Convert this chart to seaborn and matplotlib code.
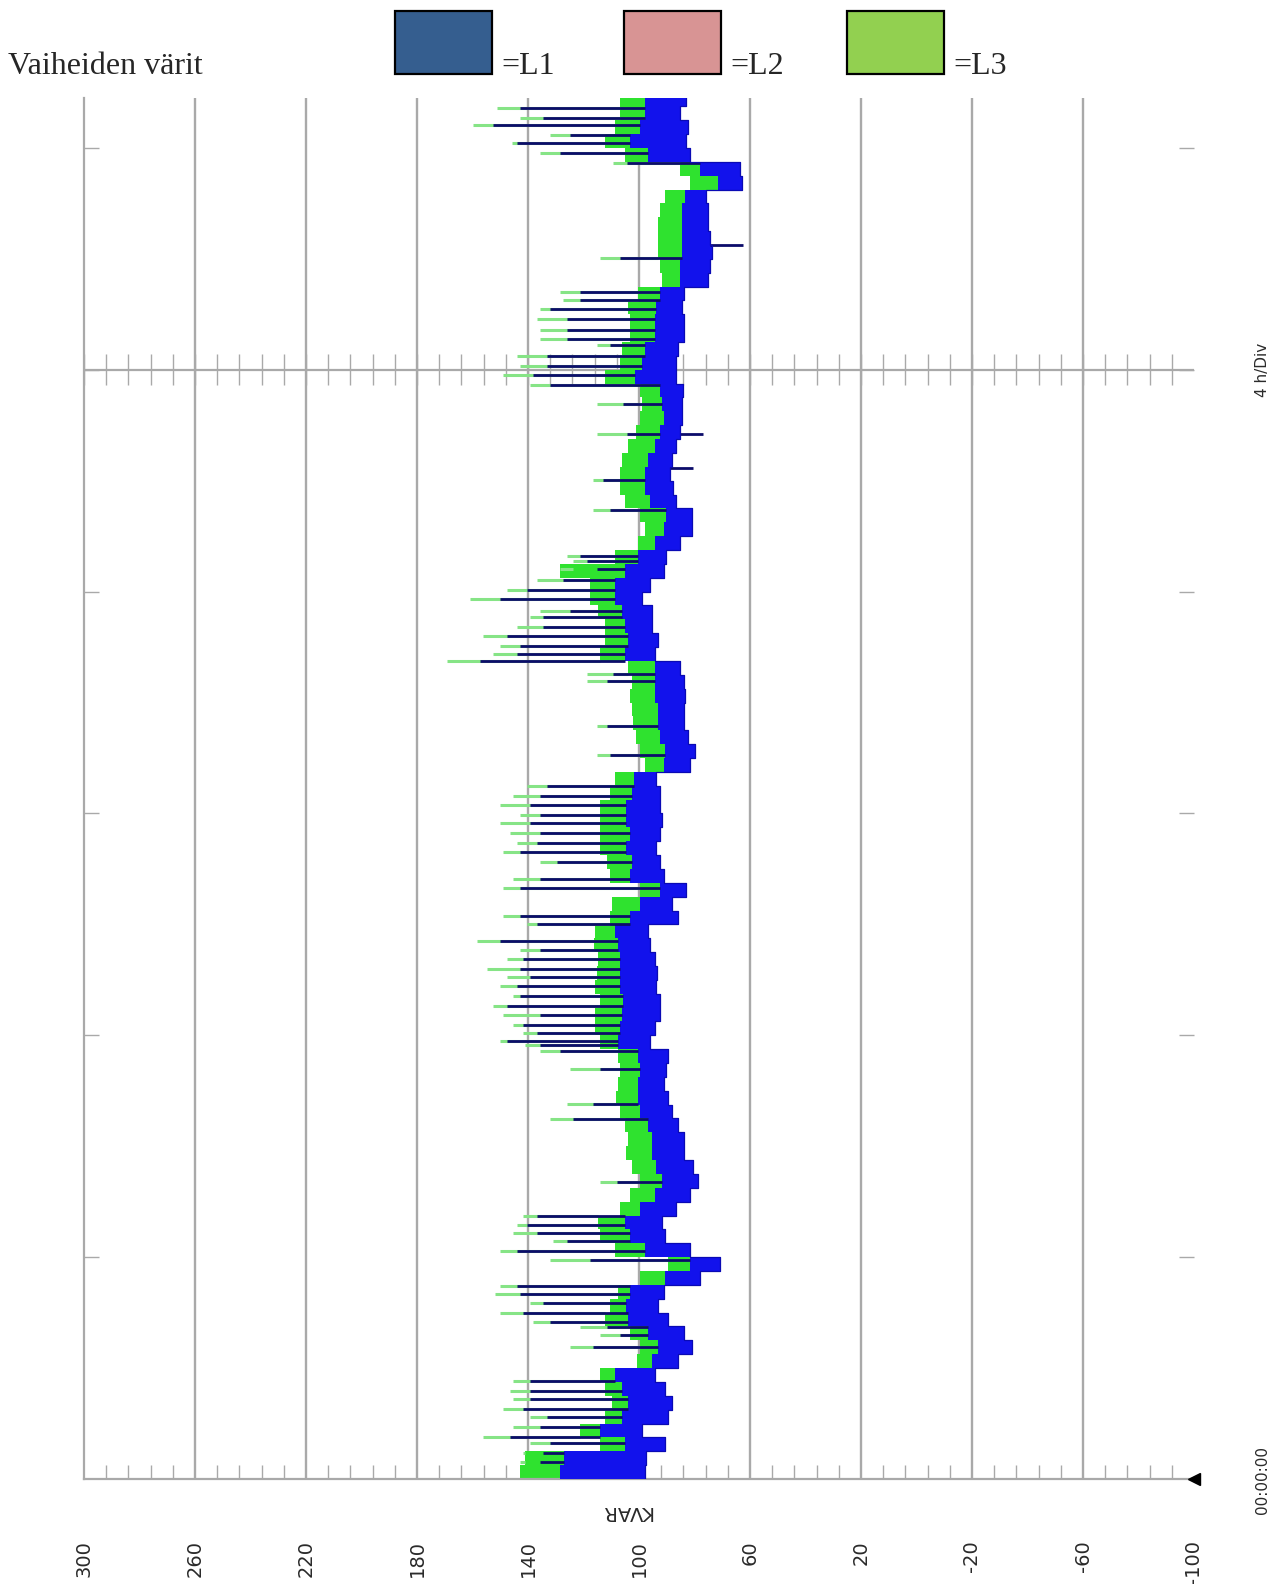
import numpy as np
import matplotlib
matplotlib.use("Agg")
import matplotlib.pyplot as plt
from matplotlib.patches import Rectangle
from matplotlib.ticker import FixedLocator
import seaborn as sns

# ---------------------------------------------------------------------------
# Reactive power per phase (kVAR), 15-minute blocks starting at 00:00:00
# ---------------------------------------------------------------------------
step_h = 0.25
hours = np.arange(100) * step_h

# L1: lower and upper edge of the band within each block
l1_low = [97.8, 97.5, 90.6, 98.9, 89.5, 88.1, 90.6, 94.2, 85.9, 80.9,
          83.8, 89.5, 93.2, 91.0, 78.0, 70.8, 81.6, 90.6, 91.7, 86.7,
          81.6, 78.7, 80.5, 83.8, 83.8, 85.9, 88.1, 89.5, 91.0, 90.3,
          89.5, 96.0, 94.2, 92.4, 92.4, 93.9, 93.5, 94.2, 96.0, 96.8,
          85.9, 88.1, 83.1, 91.0, 92.4, 93.9, 92.4, 91.7, 92.4, 92.4,
          93.9, 81.6, 79.8, 82.3, 83.8, 83.8, 83.4, 83.8, 85.2, 94.2,
          93.2, 95.3, 95.3, 98.9, 96.0, 91.0, 90.3, 85.2, 80.9, 80.9,
          86.7, 87.7, 88.8, 88.1, 86.7, 85.2, 84.5, 84.5, 84.1, 86.7,
          86.7, 85.9, 83.8, 83.8, 84.5, 83.8, 75.1, 74.4, 73.7, 74.4,
          75.1, 75.1, 75.9, 62.9, 63.6, 81.6, 83.1, 82.3, 85.2, 83.1]
l1_high = [128.5, 127.0, 105.0, 114.1, 106.1, 104.0, 106.1, 108.6, 95.3, 93.2,
           96.8, 104.0, 104.7, 103.2, 90.6, 81.6, 97.8, 103.2, 105.0, 99.6,
           94.2, 91.7, 93.9, 95.3, 95.3, 96.8, 99.6, 100.4, 100.4, 99.6,
           100.4, 107.6, 106.8, 106.1, 105.8, 106.8, 106.8, 106.8, 107.6, 108.6,
           103.2, 99.6, 92.4, 103.2, 102.5, 104.7, 103.2, 104.7, 104.7, 102.5,
           101.8, 91.0, 90.6, 92.4, 93.2, 93.2, 94.2, 94.2, 94.2, 105.0,
           104.0, 105.0, 106.1, 108.6, 108.6, 105.0, 100.4, 94.2, 91.0, 90.3,
           96.0, 97.8, 97.8, 96.8, 94.2, 92.4, 91.0, 91.7, 92.4, 101.4,
           98.9, 97.8, 94.2, 94.2, 93.9, 92.4, 85.2, 85.2, 84.5, 84.5,
           84.5, 84.5, 83.4, 71.5, 78.0, 96.8, 103.2, 99.6, 97.8, 97.8]
# L3: upper edge of the band within each block
l3_high = [142.9, 141.0, 114.1, 121.3, 112.3, 109.7, 112.3, 114.1, 100.7, 99.6,
           103.2, 112.3, 110.5, 107.6, 99.6, 89.5, 108.6, 114.1, 114.8, 106.8,
           103.2, 99.6, 102.5, 104.7, 104.0, 105.0, 106.8, 108.3, 107.6, 106.8,
           107.6, 114.1, 115.9, 115.9, 114.1, 115.9, 115.1, 114.8, 116.2, 115.9,
           110.5, 109.7, 99.6, 110.5, 111.5, 114.1, 114.1, 114.1, 114.1, 110.5,
           108.6, 97.8, 99.6, 101.1, 102.2, 102.5, 103.2, 102.5, 104.0, 114.1,
           112.3, 112.3, 114.8, 117.7, 117.7, 128.5, 108.6, 100.4, 97.8, 99.6,
           105.0, 106.8, 106.8, 106.1, 104.0, 101.1, 99.6, 98.9, 99.6, 112.3,
           106.8, 106.1, 103.2, 103.2, 104.0, 100.4, 91.7, 92.4, 93.2, 93.2,
           93.2, 92.4, 90.6, 81.6, 85.2, 105.0, 112.3, 108.6, 106.8, 106.8]

# Short peaks (time in hours, peak kVAR of L1 and L3)
peak_hours = [0.31, 0.47, 0.65, 0.76, 0.94, 1.12, 1.26, 1.44, 1.59, 1.77,
              2.38, 2.60, 2.74, 2.83, 2.99, 3.17, 3.34, 3.48, 3.95, 4.11,
              4.29, 4.44, 4.58, 4.74, 5.36, 6.49, 6.76, 7.39, 7.72, 7.83,
              7.90, 8.04, 8.19, 8.37, 8.53, 8.71, 8.89, 9.05, 9.20, 9.38,
              9.54, 9.70, 10.01, 10.15, 10.66, 10.82, 11.13, 11.31, 11.47, 11.65,
              11.83, 11.97, 12.16, 12.32, 12.50, 13.06, 13.58, 14.39, 14.52, 14.75,
              14.88, 15.02, 15.20, 15.37, 15.55, 15.65, 15.87, 16.03, 16.21, 16.41,
              16.56, 16.65, 17.48, 18.02, 18.85, 19.39, 19.73, 19.91, 20.07, 20.25,
              20.45, 20.56, 20.72, 20.92, 21.10, 21.26, 21.41, 22.02, 23.73, 23.91,
              24.08, 24.24, 24.42, 24.54, 24.72]
l1_peaks = [135.7, 134.6, 132.1, 146.5, 135.7, 133.2, 141.8, 139.3, 139.3, 139.3,
            116.6, 106.8, 111.5, 132.1, 141.8, 134.6, 142.9, 144.0, 117.7, 144.0,
            125.9, 136.8, 140.4, 136.8, 107.9, 123.8, 116.6, 114.1, 128.5, 135.7,
            147.6, 136.8, 141.8, 135.7, 147.6, 142.9, 144.0, 139.3, 142.9, 141.8,
            135.7, 150.1, 136.8, 142.9, 142.9, 135.7, 129.5, 142.9, 136.8, 135.7,
            139.3, 135.7, 139.3, 135.7, 133.2, 110.5, 111.5, 111.5, 109.4, 157.3,
            144.0, 142.9, 147.6, 134.6, 134.6, 124.9, 150.1, 140.4, 127.4, 115.1,
            118.7, 121.3, 110.5, 113.0, 104.3, 105.8, 132.1, 138.2, 133.2, 133.2,
            110.5, 125.9, 125.9, 125.9, 132.1, 121.3, 121.3, 106.8, 104.3, 128.5,
            144.0, 124.9, 152.6, 134.6, 142.9]
l3_peaks = [142.9, 141.8, 139.3, 156.2, 145.4, 139.3, 149.0, 145.4, 146.5, 145.4,
            124.9, 114.1, 121.3, 138.2, 150.1, 139.3, 151.9, 150.1, 132.1, 150.1,
            131.0, 145.4, 144.0, 141.8, 114.1, 132.1, 125.9, 124.9, 135.7, 141.1,
            150.1, 141.8, 145.4, 149.0, 152.6, 145.4, 150.1, 147.6, 154.8, 147.6,
            142.9, 158.4, 140.4, 149.0, 149.0, 145.4, 135.7, 149.0, 144.0, 146.5,
            150.1, 142.9, 150.1, 145.4, 140.4, 115.1, 115.1, 118.7, 118.7, 169.2,
            152.6, 150.1, 156.2, 144.0, 139.3, 135.7, 160.9, 147.6, 136.8, 123.8,
            123.8, 125.9, 116.6, 116.6, 115.1, 115.1, 139.3, 149.0, 142.9, 144.0,
            115.1, 135.7, 135.7, 136.8, 135.7, 127.4, 128.5, 114.1, 109.4, 135.7,
            145.8, 132.1, 159.8, 142.9, 151.2]

# Short drops of L1
drop_hours = [18.23, 18.85, 22.25]
drop_values = [80.5, 76.9, 62.5]

value_ticks = list(range(300, -101, -40))
value_labels = [str(v) for v in value_ticks]
phase_names = ["=L1", "=L2", "=L3"]
phase_colors = ["#355e8f", "#d89494", "#92d050"]

# ---------------------------------------------------------------------------
sns.set_style("white")
plt.rcParams["font.family"] = ["DejaVu Sans"]

W, H = 1277, 1584
fig = plt.figure(figsize=(W / 100, H / 100), dpi=100)
ax = fig.add_axes([84 / W, 1 - 1479 / H, 1110 / W, 1381 / H])

BLUE = "#1212ec"
EDGE = "#0a0ab4"
NAVY = "#0c0c6a"
GREEN = "#2fe22f"
LIGHT_GREEN = "#86e486"
GRID = "#a9a9a9"

hours = np.asarray(hours, float)
edges = np.append(hours, hours[-1] + step_h)


def held(a):
    a = np.asarray(a, float)
    return np.append(a, a[-1])


lo = np.asarray(l1_low, float)
hi = np.asarray(l1_high, float)
g_hi = np.asarray(l3_high, float)

# value grid lines and the 20 h reference line
for v in value_ticks[1:-1]:
    ax.axvline(v, color=GRID, lw=1.7, zorder=0)
ax.axhline(20, color=GRID, lw=1.6, zorder=0)

minor_vals = [v for v in range(300, -100, -8) if v % 40 != 0]
ax.vlines(minor_vals, 19.72, 20.28, color=GRID, lw=1.0, zorder=0)

# L3 band and its peaks
ax.fill_betweenx(edges, held(lo), held(g_hi), step="post", color=GREEN, lw=0, zorder=2)
ph = np.asarray(peak_hours, float)
idx = np.clip((ph / step_h).astype(int), 0, len(hours) - 1)
ax.hlines(ph, g_hi[idx], l3_peaks, color=LIGHT_GREEN, lw=2.2, zorder=3)

# L1 band, its peaks and drops
ax.fill_betweenx(edges, held(lo), held(hi), step="post", color=BLUE, lw=0, zorder=4)
ax.hlines(ph, hi[idx], l1_peaks, color=NAVY, lw=2.0, zorder=5)
dh = np.asarray(drop_hours, float)
didx = np.clip((dh / step_h).astype(int), 0, len(hours) - 1)
ax.hlines(dh, lo[didx], drop_values, color=NAVY, lw=2.0, zorder=5)

# slightly darker lower edge of the L1 band
edge_y = np.repeat(edges, 2)[1:-1]
edge_x = np.repeat(lo, 2)
sns.lineplot(x=edge_x, y=edge_y, sort=False, estimator=None, color=EDGE,
             lw=0.9, ax=ax, zorder=5)

ax.set_xlim(300, -100)
ax.set_ylim(0, 24.9)
ax.set_xlabel("")
ax.set_ylabel("")

ax.set_xticks(value_ticks)
ax.set_xticklabels(value_labels)
ax.tick_params(axis="x", which="major", length=0, pad=44, labelsize=14,
               labelrotation=90, labelcolor="#2a2a2a")
ax.xaxis.set_minor_locator(FixedLocator(minor_vals))
ax.tick_params(axis="x", which="minor", direction="in", length=10, width=1.0,
               color=GRID, bottom=True)

ax.set_yticks([4, 8, 12, 16, 20, 24])
ax.tick_params(axis="y", which="major", direction="in", length=11, width=1.0,
               color=GRID, left=True, right=True, labelleft=False)

for side in ("top", "right"):
    ax.spines[side].set_visible(False)
for side in ("left", "bottom"):
    ax.spines[side].set_color(GRID)
    ax.spines[side].set_linewidth(1.6)

ax.plot([-100], [0], marker="<", ms=9, color="black", clip_on=False, zorder=6)

# axis captions
fig.text(626 / W, 1 - 1512 / H, "KVAR", rotation=180, ha="center", va="center",
         fontsize=14, color="#2a2a2a")
fig.text(1263 / W, 1 - 1480 / H, "00:00:00", rotation=90, ha="center",
         va="center", fontsize=11, color="#2a2a2a")
fig.text(1263 / W, 1 - 370 / H, "4 h/Div", rotation=90, ha="center",
         va="center", fontsize=11, color="#2a2a2a")

# phase colour key
fig.text(8 / W, 1 - 74 / H, "Vaiheiden värit", family="Liberation Serif",
         fontsize=23, va="baseline", ha="left")
box_left = [395, 624, 847]
for x0, name, col in zip(box_left, phase_names, phase_colors):
    fig.add_artist(Rectangle((x0 / W, 1 - 74 / H), 97 / W, 63 / H,
                             transform=fig.transFigure, facecolor=col,
                             edgecolor="black", lw=1.6))
    fig.text((x0 + 106) / W, 1 - 74 / H, name, family="Liberation Serif",
             fontsize=23, va="baseline", ha="left")

fig.savefig("out.png", dpi=100)
